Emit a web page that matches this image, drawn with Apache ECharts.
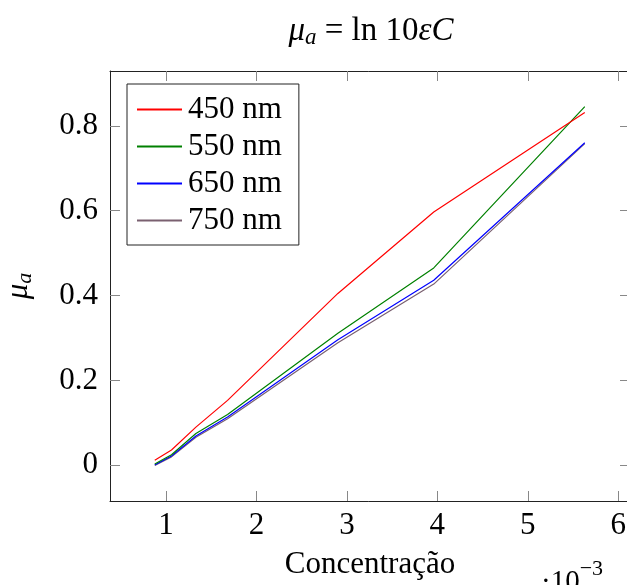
<!DOCTYPE html>
<html>
<head>
<meta charset="utf-8">
<script src="https://cdn.jsdelivr.net/npm/echarts@6/dist/echarts.min.js"></script>
<style>
  html, body { margin: 0; padding: 0; background: #fff; }
  #chart { width: 627px; height: 585px; }
</style>
</head>
<body>
<div id="chart"></div>
<script>
// concentration (x 10^-3)
const conc = [0.875, 1.06, 1.33, 1.68, 2.9, 3.96, 5.63];
const mu450 = [0.012, 0.036, 0.09, 0.153, 0.405, 0.597, 0.831];
const mu550 = [0.003, 0.025, 0.075, 0.12, 0.311, 0.465, 0.845];
const mu650 = [0.001, 0.022, 0.069, 0.114, 0.296, 0.436, 0.76];
const mu750 = [0.0, 0.02, 0.066, 0.11, 0.289, 0.427, 0.758];
const seriesNames = ["450 nm", "550 nm", "650 nm", "750 nm"];
const xTicks = [1, 2, 3, 4, 5, 6];
const yTicks = [0, 0.2, 0.4, 0.6, 0.8];

const colors = ["#ff0000", "#008000", "#0000ff", "#7a6070"];
const font = "Liberation Serif";
const fs = 31;

const pairs = (ys) => conc.map((x, i) => [x, ys[i]]);

const chart = echarts.init(document.getElementById("chart"));

const xAxisBase = {
  type: "value",
  min: 0.38,
  max: 6.13,
  axisLine: { show: true, onZero: false, lineStyle: { color: "#222", width: 1 } },
  axisTick: { show: true, inside: true, length: 10, customValues: xTicks, lineStyle: { color: "#888" } },
  splitLine: { show: false }
};
const yAxisBase = {
  type: "value",
  min: -0.084,
  max: 0.929,
  axisLine: { show: true, onZero: false, lineStyle: { color: "#222", width: 1 } },
  axisTick: { show: true, inside: true, length: 10, customValues: yTicks, lineStyle: { color: "#888" } },
  splitLine: { show: false }
};

const option = {
  animation: false,
  title: {
    text: "{i|μ}{s|a}{n| = ln 10}{i|εC}",
    left: 366,
    textAlign: "center",
    top: 9,
    textStyle: {
      fontWeight: "normal",
      rich: {
        i: { fontFamily: font, fontSize: 33, fontStyle: "italic", fontWeight: "normal", color: "#000" },
        s: { fontFamily: font, fontSize: 23, fontStyle: "italic", fontWeight: "normal", color: "#000", padding: [12, 0, 0, 0] },
        n: { fontFamily: font, fontSize: 33, fontWeight: "normal", color: "#000" }
      }
    }
  },
  legend: {
    orient: "vertical",
    left: 127,
    top: 84,
    data: seriesNames,
    itemWidth: 45,
    itemHeight: 14,
    itemGap: 6,
    padding: [10, 17, 9, 9],
    borderColor: "#222",
    borderWidth: 1,
    backgroundColor: "#fff",
    itemStyle: { opacity: 0 },
    textStyle: { fontFamily: font, fontSize: fs, color: "#000", padding: [0, 0, 0, 1] }
  },
  grid: { left: 110, top: 71, width: 520, height: 430, show: false, outerBoundsMode: "none", containLabel: false },
  xAxis: [
    Object.assign({}, xAxisBase, {
      position: "bottom",
      axisLabel: { customValues: xTicks, fontFamily: font, fontSize: fs, color: "#000", margin: 9 },
      name: "Concentração",
      nameLocation: "middle",
      nameGap: 48,
      nameTextStyle: { fontFamily: font, fontSize: fs, color: "#000" }
    }),
    Object.assign({}, xAxisBase, { position: "top", axisLabel: { show: false } })
  ],
  yAxis: [
    Object.assign({}, yAxisBase, {
      position: "left",
      axisLabel: { customValues: yTicks, fontFamily: font, fontSize: fs, color: "#000", margin: 12 },
      name: "{i|μ}{s|a}",
      nameLocation: "middle",
      nameGap: 74,
      nameRotate: 90,
      nameTextStyle: {
        rich: {
          i: { fontFamily: font, fontSize: fs, fontStyle: "italic", color: "#000" },
          s: { fontFamily: font, fontSize: 22, fontStyle: "italic", color: "#000", padding: [12, 0, 0, 0] }
        }
      }
    }),
    Object.assign({}, yAxisBase, { position: "right", axisLabel: { show: false } })
  ],
  graphic: [
    {
      type: "text",
      left: 541,
      top: 558,
      style: {
        text: "{d|·10}{e|−3}",
        rich: {
          d: { fontFamily: font, fontSize: 29, fill: "#000", padding: [18, 0, 0, 0] },
          e: { fontFamily: font, fontSize: 22, fill: "#000", padding: [0, 0, 8, 0] }
        }
      }
    }
  ],
  series: [mu450, mu550, mu650, mu750].map((ys, i) => ({
    name: seriesNames[i],
    type: "line",
    data: pairs(ys),
    symbol: "none",
    lineStyle: { color: colors[i], width: 1.2 },
    itemStyle: { color: colors[i] },
    z: 4 - i
  }))
};

chart.setOption(option);
</script>
</body>
</html>
